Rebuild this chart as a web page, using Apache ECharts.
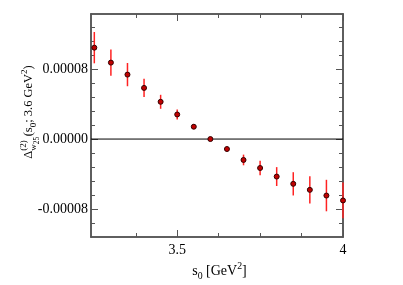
<!DOCTYPE html>
<html>
<head>
<meta charset="utf-8">
<script src="https://cdn.jsdelivr.net/npm/echarts@6/dist/echarts.min.js"></script>
<style>html,body{margin:0;padding:0;background:#fff}#c{width:403px;height:285px}</style>
</head>
<body>
<div id="c"></div>
<script>
// ---- data ----
var s0 = [3.25, 3.30, 3.35, 3.40, 3.45, 3.50, 3.55, 3.60, 3.65, 3.70, 3.75, 3.80, 3.85, 3.90, 3.95, 4.00];
var delta = [1.045e-4, 8.74e-5, 7.37e-5, 5.85e-5, 4.26e-5, 2.81e-5, 1.41e-5, 0, -1.14e-5, -2.39e-5, -3.31e-5, -4.29e-5, -5.12e-5, -5.81e-5, -6.46e-5, -7.02e-5];
var err = [1.79e-5, 1.50e-5, 1.33e-5, 1.05e-5, 8.0e-6, 5.7e-6, 2.7e-6, 0, 2.7e-6, 6.1e-6, 8.4e-6, 1.08e-5, 1.33e-5, 1.56e-5, 1.80e-5, 2.05e-5];
var xMajorTicks = [3.5, 4];
var xMinorTicks = [3.375, 3.625, 3.75, 3.875];
var yMajorTicks = [-8e-5, 0, 8e-5];
var yMinorTicks = [-9.6e-5, -6.4e-5, -4.8e-5, -3.2e-5, -1.6e-5, 1.6e-5, 3.2e-5, 4.8e-5, 6.4e-5, 9.6e-5, 1.12e-4, 1.28e-4];

var FONT = '"Liberation Serif", "DejaVu Serif", serif';
var cv = document.createElement('canvas').getContext('2d');
function fnt(s){ return s + 'px ' + FONT; }
function tw(t, s){ cv.font = fnt(s); cv.textBaseline = 'alphabetic'; return cv.measureText(t).width; }
function midOff(s){
  cv.font = fnt(s);
  cv.textBaseline = 'alphabetic'; var a1 = cv.measureText('H').actualBoundingBoxAscent;
  cv.textBaseline = 'middle'; var a2 = cv.measureText('H').actualBoundingBoxAscent;
  return a1 - a2;
}
function textEl(t, s, x, yb){
  return {type:'text', x:x, y:yb - midOff(s), silent:true,
    style:{text:t, font:fnt(s), fill:'#000', textAlign:'left', textVerticalAlign:'middle', verticalAlign:'middle'}};
}
// y-axis title
function yTitle(F){
  var S = F*0.72, SS = F*0.58, ch = [], x = 0;
  function put(t, s, dy){ ch.push(textEl(t, s, x, dy)); x += tw(t, s); }
  put('\u0394', F, 0);
  var x0 = x;
  ch.push(textEl('(2)', S, x0, -0.45*F));
  var w1 = tw('(2)', S);
  ch.push(textEl('w', S, x0, 0.32*F));
  ch.push(textEl('25', SS, x0 + tw('w', S), 0.58*F));
  var w2 = tw('w', S) + tw('25', SS);
  x = x0 + Math.max(w1, w2) + 0.05*F;
  put('(s', F, 0); put('0', S, 0.28*F); put('; 3.6 GeV', F, 0); put('2', S, -0.42*F); put(')', F, 0);
  return {children:ch, len:x};
}
function xTitle(F){
  var S = F*0.7, ch = [], x = 0;
  function put(t, s, dy){ ch.push(textEl(t, s, x, dy)); x += tw(t, s); }
  put('s', F, 0); put('0', S, 0.28*F); put(' [GeV', F, 0); put('2', S, -0.42*F); put(']', F, 0);
  return {children:ch, len:x};
}
var yt = yTitle(12.5), xt = xTitle(14);

var AXC = '#555';
function xAx(pos, ticks, len, labels){
  return {type:'value', min:3.24, max:4.0, position:pos, scale:true,
    axisLine:{show:true, onZero:false, lineStyle:{color:AXC, width:1.5}},
    axisTick:{show:true, inside:true, length:len, customValues:ticks, lineStyle:{color:AXC, width:1}},
    axisLabel:{show:labels, customValues:ticks, margin:6, color:'#000', fontFamily:FONT, fontSize:14,
      formatter:function(v){ return String(+v.toFixed(3)); }},
    splitLine:{show:false}};
}
function yAx(pos, ticks, len, labels){
  return {type:'value', min:-1.12e-4, max:1.43e-4, position:pos, scale:true,
    axisLine:{show:true, onZero:false, lineStyle:{color:AXC, width:1.5}},
    axisTick:{show:true, inside:true, length:len, customValues:ticks, lineStyle:{color:AXC, width:1}},
    axisLabel:{show:labels, customValues:ticks, margin:3, color:'#000', fontFamily:FONT, fontSize:14,
      formatter:function(v){ return (Math.abs(v) < 1e-12 ? 0 : v).toFixed(5); }},
    splitLine:{show:false}};
}

var pts = s0.map(function(x, i){ return [x, delta[i]]; });
var bars = s0.map(function(x, i){ return [x, delta[i] - err[i], delta[i] + err[i]]; });

var chart = echarts.init(document.getElementById('c'), null, {renderer:'canvas'});
chart.setOption({
  animation:false,
  grid:{left:91, right:60, top:14, bottom:48},
  xAxis:[xAx('bottom', xMajorTicks, 7, true), xAx('bottom', xMinorTicks, 4, false),
         xAx('top', xMajorTicks, 7, false), xAx('top', xMinorTicks, 4, false)],
  yAxis:[yAx('left', yMajorTicks, 7, true), yAx('left', yMinorTicks, 4, false),
         yAx('right', yMajorTicks, 7, false), yAx('right', yMinorTicks, 4, false)],
  series:[
    {type:'line', data:[[3.24, 0], [4.0, 0]], symbol:'none', silent:true,
      lineStyle:{color:'#000', width:1}, z:1},
    {type:'custom', data:bars, silent:true, z:2,
      renderItem:function(params, api){
        var a = api.coord([api.value(0), api.value(1)]);
        var b = api.coord([api.value(0), api.value(2)]);
        return {type:'line', shape:{x1:a[0], y1:a[1], x2:b[0], y2:b[1]},
          style:{stroke:'#f22', lineWidth:1.5}};
      }},
    {type:'scatter', data:pts, symbol:'circle', symbolSize:5, silent:true, z:3,
      itemStyle:{color:'#c00000', borderColor:'#300', borderWidth:1, opacity:1}}
  ],
  graphic:[
    {type:'group', x:32, y:112 + yt.len/2, rotation:Math.PI/2, children:yt.children},
    {type:'group', x:219.5 - xt.len/2, y:275, children:xt.children}
  ]
});
</script>
</body>
</html>
